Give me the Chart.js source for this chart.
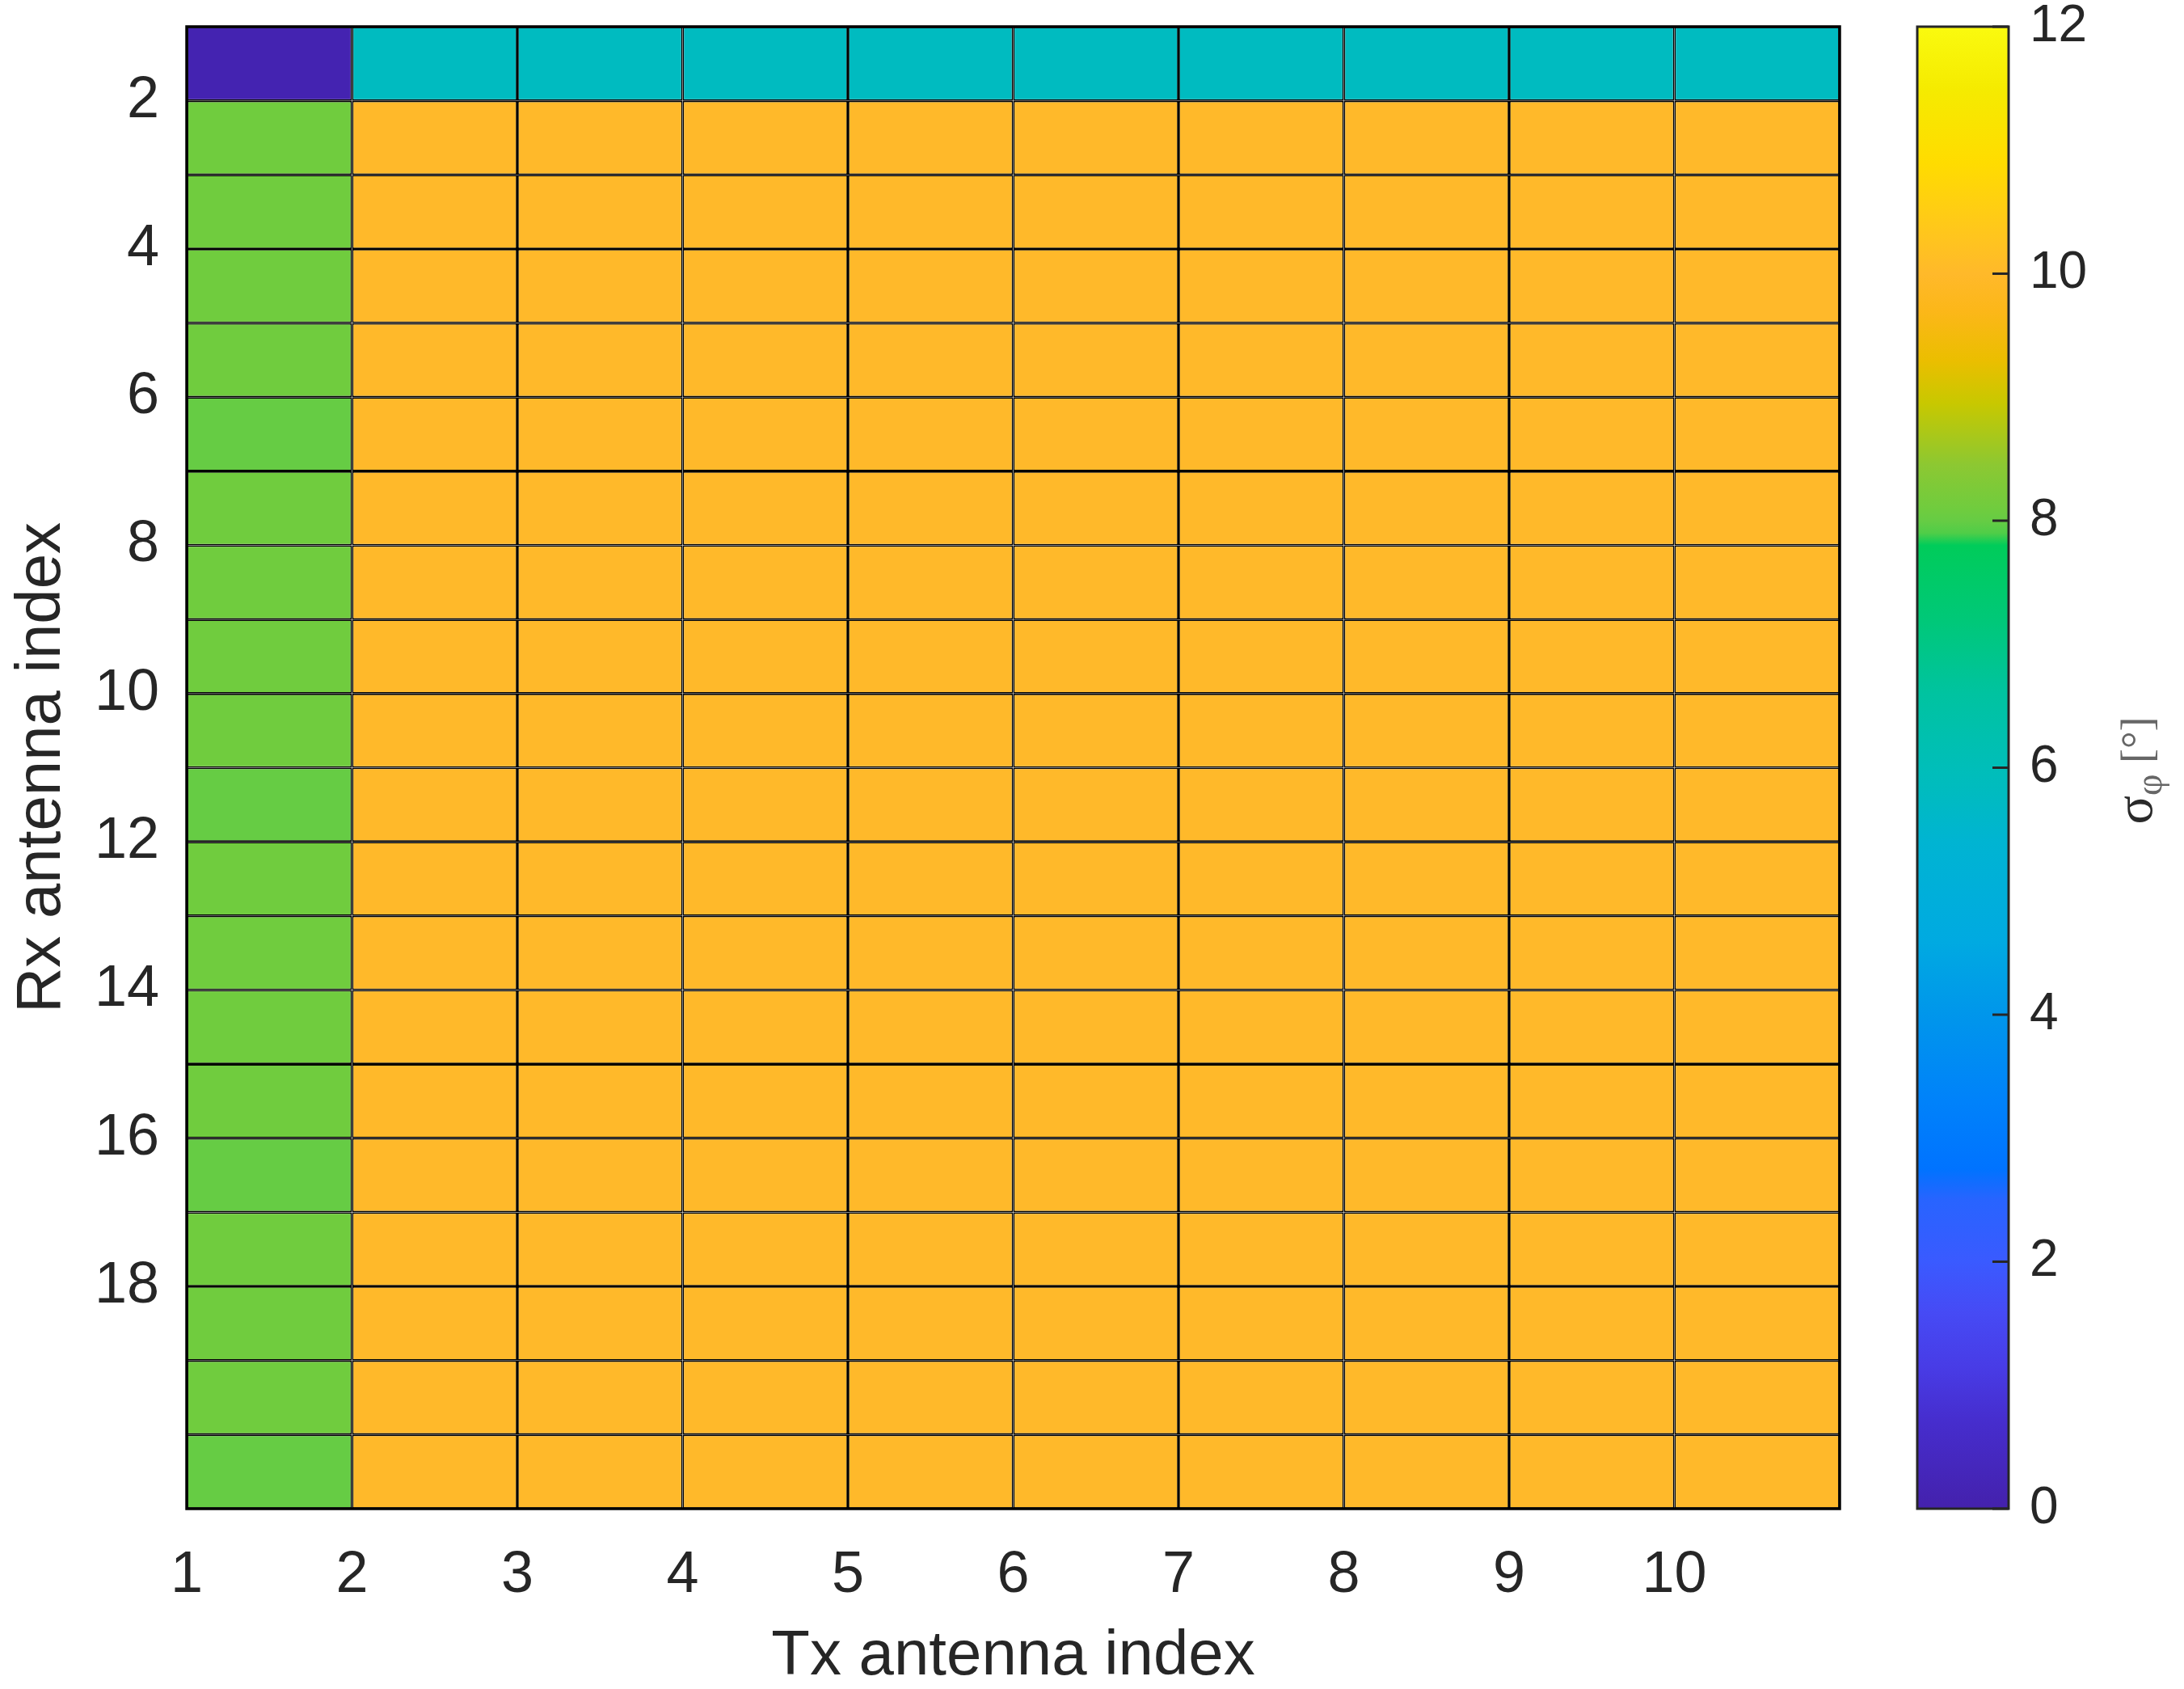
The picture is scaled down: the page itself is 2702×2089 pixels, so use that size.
<!DOCTYPE html>
<html>
<head>
<meta charset="utf-8">
<script src="https://cdn.jsdelivr.net/npm/chart.js@4/dist/chart.umd.min.js"></script>
<style>
html,body{margin:0;padding:0;background:#ffffff;}
#wrap{position:relative;width:2702px;height:2089px;background:#ffffff;}
canvas{position:absolute;top:0;}
</style>
</head>
<body>
<div id="wrap">
<canvas id="main" width="2702" height="2089" style="left:0px"></canvas>
<canvas id="cbar" width="402" height="2089" style="left:2300px"></canvas>
</div>
<script>
// ---------------- data ----------------
const txAntennas = [1, 2, 3, 4, 5, 6, 7, 8, 9, 10];
const rxAntennas = [1, 2, 3, 4, 5, 6, 7, 8, 9, 10, 11, 12, 13, 14, 15, 16, 17, 18, 19, 20];
const xTickValues = [1, 2, 3, 4, 5, 6, 7, 8, 9, 10];
const yTickValues = [2, 4, 6, 8, 10, 12, 14, 16, 18];
const colorbarTicks = [0, 2, 4, 6, 8, 10, 12];
const colorbarMin = 0;
const colorbarMax = 12;

// sigma_phi [deg] per Tx antenna column, listed for Rx antenna 1..20
const sigmaTx1  = [0.1, 8.1, 8.1, 8.1, 8.1, 8.0, 8.1, 8.1, 8.1, 8.1, 8.0, 8.1, 8.1, 8.1, 8.1, 8.0, 8.1, 8.1, 8.1, 8.0];
const sigmaTx2  = [5.8, 10.0, 10.0, 10.0, 10.0, 10.0, 10.0, 10.0, 10.0, 10.0, 10.0, 10.0, 10.0, 10.0, 10.0, 10.0, 10.0, 10.0, 10.0, 10.0];
const sigmaTx3  = [5.8, 10.0, 10.0, 10.0, 10.0, 10.0, 10.0, 10.0, 10.0, 10.0, 10.0, 10.0, 10.0, 10.0, 10.0, 10.0, 10.0, 10.0, 10.0, 10.0];
const sigmaTx4  = [5.8, 10.0, 10.0, 10.0, 10.0, 10.0, 10.0, 10.0, 10.0, 10.0, 10.0, 10.0, 10.0, 10.0, 10.0, 10.0, 10.0, 10.0, 10.0, 10.0];
const sigmaTx5  = [5.8, 10.0, 10.0, 10.0, 10.0, 10.0, 10.0, 10.0, 10.0, 10.0, 10.0, 10.0, 10.0, 10.0, 10.0, 10.0, 10.0, 10.0, 10.0, 10.0];
const sigmaTx6  = [5.8, 10.0, 10.0, 10.0, 10.0, 10.0, 10.0, 10.0, 10.0, 10.0, 10.0, 10.0, 10.0, 10.0, 10.0, 10.0, 10.0, 10.0, 10.0, 10.0];
const sigmaTx7  = [5.8, 10.0, 10.0, 10.0, 10.0, 10.0, 10.0, 10.0, 10.0, 10.0, 10.0, 10.0, 10.0, 10.0, 10.0, 10.0, 10.0, 10.0, 10.0, 10.0];
const sigmaTx8  = [5.8, 10.0, 10.0, 10.0, 10.0, 10.0, 10.0, 10.0, 10.0, 10.0, 10.0, 10.0, 10.0, 10.0, 10.0, 10.0, 10.0, 10.0, 10.0, 10.0];
const sigmaTx9  = [5.8, 10.0, 10.0, 10.0, 10.0, 10.0, 10.0, 10.0, 10.0, 10.0, 10.0, 10.0, 10.0, 10.0, 10.0, 10.0, 10.0, 10.0, 10.0, 10.0];
const sigmaTx10 = [5.8, 10.0, 10.0, 10.0, 10.0, 10.0, 10.0, 10.0, 10.0, 10.0, 10.0, 10.0, 10.0, 10.0, 10.0, 10.0, 10.0, 10.0, 10.0, 10.0];
const sigmaByTx = [sigmaTx1, sigmaTx2, sigmaTx3, sigmaTx4, sigmaTx5, sigmaTx6, sigmaTx7, sigmaTx8, sigmaTx9, sigmaTx10];

// ---------------- colormap (style) ----------------
const cmapStopValues = [0.0, 0.7, 1.15, 1.6, 2.0, 2.5, 2.75, 3.3, 4.0, 4.6, 5.4, 5.8, 6.0, 6.6, 7.2, 7.8, 7.9, 8.0, 8.1, 8.45, 8.95, 9.3, 9.7, 10.0, 10.3, 10.9, 11.5, 12.0];
const cmapStopColors = [
  [68,33,172],[70,45,205],[72,60,230],[70,75,245],[58,90,255],[40,100,255],[0,115,255],[0,130,250],
  [0,150,235],[0,170,225],[0,180,210],[0,187,192],[0,190,185],[0,195,160],[0,200,120],[0,204,90],
  [80,205,72],[102,204,68],[112,204,62],[140,200,50],[200,200,0],[235,190,0],[252,183,25],[255,185,42],
  [255,197,30],[255,220,0],[245,235,0],[250,250,15]
];
function rgbStr(c){ return 'rgb(' + c.map(x => Math.round(x)).join(',') + ')'; }
function colorFor(v){
  if (v <= cmapStopValues[0]) return rgbStr(cmapStopColors[0]);
  for (let i = 1; i < cmapStopValues.length; i++){
    if (v <= cmapStopValues[i]){
      const t = (v - cmapStopValues[i-1]) / (cmapStopValues[i] - cmapStopValues[i-1]);
      const a = cmapStopColors[i-1], b = cmapStopColors[i];
      return rgbStr([a[0]+(b[0]-a[0])*t, a[1]+(b[1]-a[1])*t, a[2]+(b[2]-a[2])*t]);
    }
  }
  return rgbStr(cmapStopColors[cmapStopColors.length-1]);
}

Chart.defaults.font.family = "'Liberation Sans', Arial, sans-serif";
Chart.defaults.color = '#262626';

const framePlugin = {
  id: 'frame',
  afterDatasetsDraw(chart, args, opts){
    const {ctx, chartArea: a} = chart;
    ctx.save();
    ctx.strokeStyle = opts.color || '#000';
    ctx.lineWidth = opts.width || 3;
    ctx.strokeRect(a.left, a.top, a.right - a.left, a.bottom - a.top);
    ctx.restore();
  }
};

// ---------------- main heatmap ----------------
const datasets = txAntennas.map((tx, j) => ({
  label: 'Tx ' + tx,
  data: rxAntennas.map(() => [tx, tx + 1]),
  backgroundColor: sigmaByTx[j].map(colorFor),
  borderColor: '#000000',
  borderWidth: 1.8,
  borderSkipped: false,
  inflateAmount: 0,
  barPercentage: 1,
  categoryPercentage: 1,
  grouped: false
}));

new Chart(document.getElementById('main'), {
  type: 'bar',
  data: { labels: rxAntennas.map(String), datasets },
  options: {
    indexAxis: 'y',
    responsive: false,
    animation: false,
    layout: { padding: { left: 0, top: 33, right: 426, bottom: 0 } },
    plugins: { legend: { display: false }, tooltip: { enabled: false }, frame: { color: '#000', width: 3.5 } },
    scales: {
      x: {
        type: 'linear', position: 'bottom', min: 1, max: 11, offset: false,
        afterBuildTicks: s => { s.ticks = xTickValues.map(v => ({ value: v })); },
        afterFit: s => { s.height = 223; },
        grid: { display: false, drawTicks: false },
        border: { display: false },
        ticks: { font: { size: 72 }, color: '#262626', padding: 40, maxRotation: 0, autoSkip: false },
        title: { display: true, text: 'Tx antenna index', font: { size: 78 }, color: '#262626', padding: { top: 0, bottom: -7 } }
      },
      y: { type: 'category', display: false, offset: true },
      y2: {
        type: 'linear', position: 'left', min: 1, max: 21, reverse: true, offset: false,
        afterBuildTicks: s => { s.ticks = yTickValues.map(v => ({ value: v })); },
        afterFit: s => { s.width = 231; s.paddingTop = 0; s.paddingBottom = 0; },
        grid: { display: false, drawTicks: false, offset: false },
        border: { display: false },
        ticks: { font: { size: 72 }, color: '#262626', padding: 34, autoSkip: false },
        title: { display: true, text: 'Rx antenna index', font: { size: 78 }, color: '#262626', padding: { top: 6, bottom: 0 } }
      }
    }
  },
  plugins: [framePlugin]
});

// ---------------- colorbar ----------------
const cbTickPlugin = {
  id: 'cbTicks',
  afterDatasetsDraw(chart){
    const {ctx, chartArea: a} = chart;
    const ys = chart.scales.y;
    ctx.save();
    ctx.strokeStyle = '#262626';
    ctx.lineWidth = 3;
    colorbarTicks.forEach(v => {
      const p = ys.getPixelForValue(v);
      ctx.beginPath();
      ctx.moveTo(a.right - 20, p);
      ctx.lineTo(a.right, p);
      ctx.stroke();
    });
    ctx.restore();
  }
};
const cbLabelPlugin = {
  id: 'cbLabel',
  afterDraw(chart){
    const ctx = chart.ctx;
    ctx.save();
    ctx.translate(2662 - 2300, 953);
    ctx.rotate(-Math.PI / 2);
    ctx.textBaseline = 'alphabetic';
    ctx.textAlign = 'left';
    const fSig = "66px 'Liberation Serif', serif";
    const fSub = "46px 'Liberation Serif', serif";
    const fBr = "54px 'Liberation Serif', serif";
    ctx.font = fSig; const wS = ctx.measureText('σ').width;
    ctx.font = fSub; const wP = ctx.measureText('φ').width;
    ctx.font = fBr; const wB = ctx.measureText(' [°]').width;
    let x = -(wS + wP + wB) / 2;
    ctx.fillStyle = '#2a2a2a';
    ctx.font = fSig; ctx.fillText('σ', x, 0); x += wS;
    ctx.fillStyle = '#666666';
    ctx.font = fSub; ctx.fillText('φ', x, 12); x += wP;
    ctx.font = fBr; ctx.fillText(' [°]', x, 0);
    ctx.restore();
  }
};

new Chart(document.getElementById('cbar'), {
  type: 'bar',
  data: {
    labels: ['σφ'],
    datasets: [{
      data: [[colorbarMin, colorbarMax]],
      backgroundColor: (c) => {
        const chart = c.chart;
        const ys = chart.scales.y;
        if (!chart.chartArea || !ys) return colorFor(6);
        const y0 = ys.getPixelForValue(colorbarMin);
        const y1 = ys.getPixelForValue(colorbarMax);
        const g = chart.ctx.createLinearGradient(0, y0, 0, y1);
        cmapStopValues.forEach((v, i) => {
          g.addColorStop((v - colorbarMin) / (colorbarMax - colorbarMin), rgbStr(cmapStopColors[i]));
        });
        return g;
      },
      borderWidth: 0,
      inflateAmount: 0,
      barPercentage: 1,
      categoryPercentage: 1
    }]
  },
  options: {
    responsive: false,
    animation: false,
    layout: { padding: { left: 72, top: 33, right: 0, bottom: 223 } },
    plugins: { legend: { display: false }, tooltip: { enabled: false }, frame: { color: '#262626', width: 3 } },
    scales: {
      x: { type: 'category', display: false, offset: true },
      y: {
        type: 'linear', position: 'right', min: colorbarMin, max: colorbarMax, offset: false,
        afterBuildTicks: s => { s.ticks = colorbarTicks.map(v => ({ value: v })); },
        afterFit: s => { s.width = 217; s.paddingTop = 0; s.paddingBottom = 0; },
        grid: { display: false, drawTicks: false },
        border: { display: false },
        ticks: { font: { size: 64 }, color: '#262626', padding: 26, autoSkip: false }
      }
    }
  },
  plugins: [framePlugin, cbTickPlugin, cbLabelPlugin]
});
</script>
</body>
</html>
